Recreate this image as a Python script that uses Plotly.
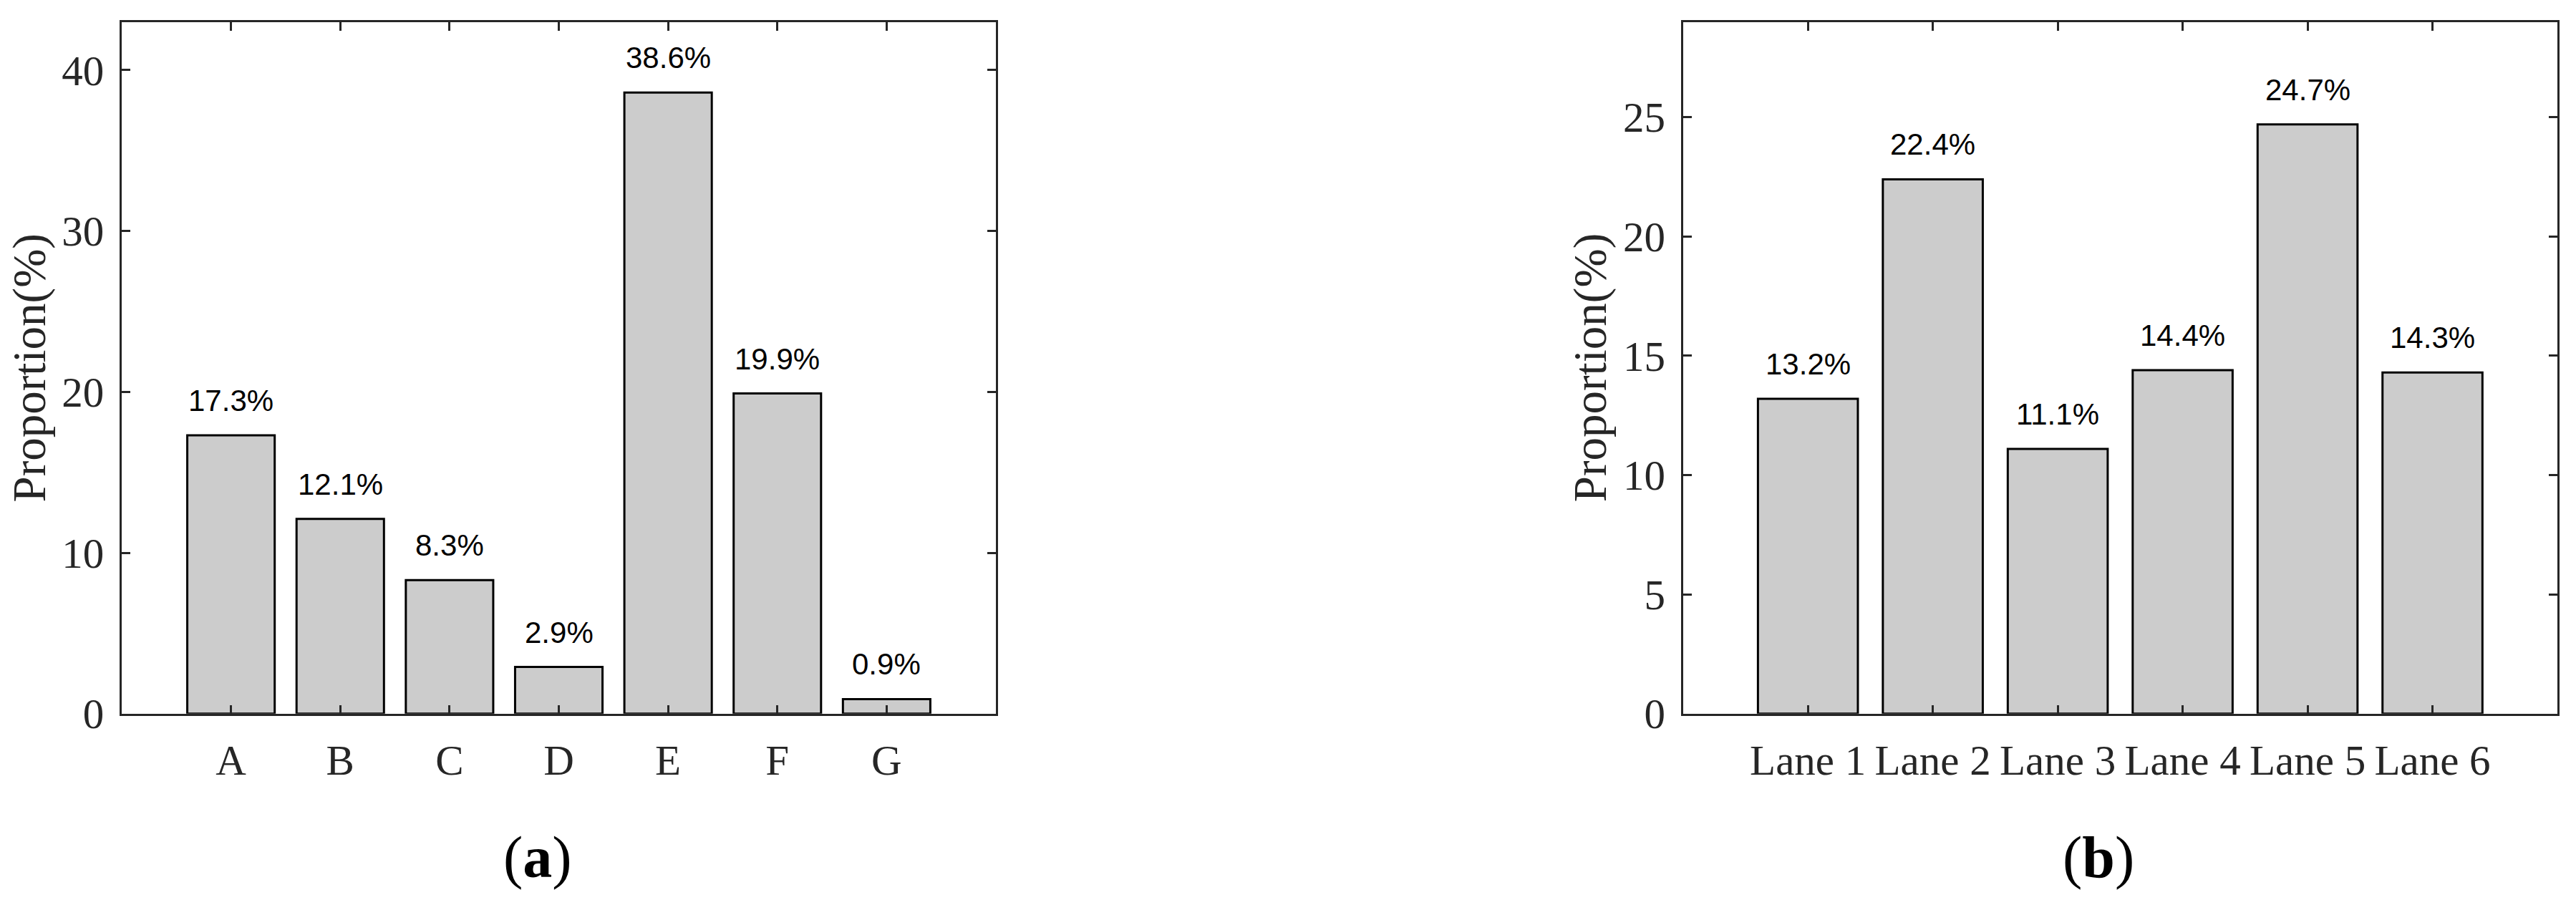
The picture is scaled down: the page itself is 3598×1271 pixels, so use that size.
import plotly.graph_objects as go

# panel (a)
groups = ["A", "B", "C", "D", "E", "F", "G"]
group_share = [17.3, 12.1, 8.3, 2.9, 38.6, 19.9, 0.9]

# panel (b)
lanes = ["Lane 1", "Lane 2", "Lane 3", "Lane 4", "Lane 5", "Lane 6"]
lane_share = [13.2, 22.4, 11.1, 14.4, 24.7, 14.3]

W, H = 3598, 1271
INK = "#262626"
SERIF = "Times New Roman, Liberation Serif, serif"
SANS = "Arial, Liberation Sans, sans-serif"


def _axis_style(**kw):
    base = dict(
        showline=True,
        linecolor=INK,
        linewidth=3,
        mirror="ticks",
        ticks="inside",
        ticklen=12,
        tickwidth=3,
        tickcolor=INK,
        showgrid=False,
        zeroline=False,
        automargin=False,
        tickfont=dict(family=SERIF, size=59, color=INK),
    )
    base.update(kw)
    return base


fig = go.Figure()

fig.add_trace(
    go.Bar(
        x=groups, y=group_share, width=0.8,
        marker=dict(color="#CCCCCC", line=dict(color="black", width=3)),
        xaxis="x", yaxis="y", showlegend=False,
    )
)
fig.add_trace(
    go.Bar(
        x=lanes, y=lane_share, width=0.8,
        marker=dict(color="#CCCCCC", line=dict(color="black", width=3)),
        xaxis="x2", yaxis="y2", showlegend=False,
    )
)

ydom = [(H - 996.7) / H, (H - 30.5) / H]
fig.update_layout(
    width=W, height=H,
    margin=dict(l=0, r=0, t=0, b=0, autoexpand=False),
    paper_bgcolor="white",
    plot_bgcolor="white",
    xaxis=_axis_style(domain=[170 / W, 1391 / W], range=[-1, len(groups)],
                      anchor="y", ticklabelstandoff=11),
    yaxis=_axis_style(domain=ydom, range=[0, 43], dtick=10, anchor="x",
                      ticklabelstandoff=10),
    xaxis2=_axis_style(domain=[2350.7 / W, 3572 / W], range=[-1, len(lanes)],
                       anchor="y2", ticklabelstandoff=11),
    yaxis2=_axis_style(domain=ydom, range=[0, 29], dtick=5, anchor="x2",
                       ticklabelstandoff=10),
)

annotations = []
for cats, vals, xr, yr in [(groups, group_share, "x", "y"), (lanes, lane_share, "x2", "y2")]:
    for c, v in zip(cats, vals):
        annotations.append(dict(
            x=c, y=v, xref=xr, yref=yr, text=f"{v}%", showarrow=False,
            yanchor="bottom", yshift=23,
            font=dict(family=SANS, size=42, color="black"),
        ))

# y titles and captions
for xpx in (40, 2220.7):
    annotations.append(dict(
        x=xpx / W, y=(H - 513.5) / H, xref="paper", yref="paper",
        text="Proportion(%)", textangle=-90, showarrow=False,
        xanchor="center", yanchor="middle",
        font=dict(family=SERIF, size=65, color=INK),
    ))
for xpx, lab in ((751, "a"), (2931, "b")):
    annotations.append(dict(
        x=xpx / W, y=(H - 1197) / H, xref="paper", yref="paper",
        text=f"(<b>{lab}</b>)", showarrow=False,
        xanchor="center", yanchor="middle",
        font=dict(family=SERIF, size=82, color="black"),
    ))

fig.update_layout(annotations=annotations)

fig.write_html(
    "out.html",
    config={"displayModeBar": False},
    post_script="document.body.style.margin='0';document.body.style.overflow='hidden';",
)
